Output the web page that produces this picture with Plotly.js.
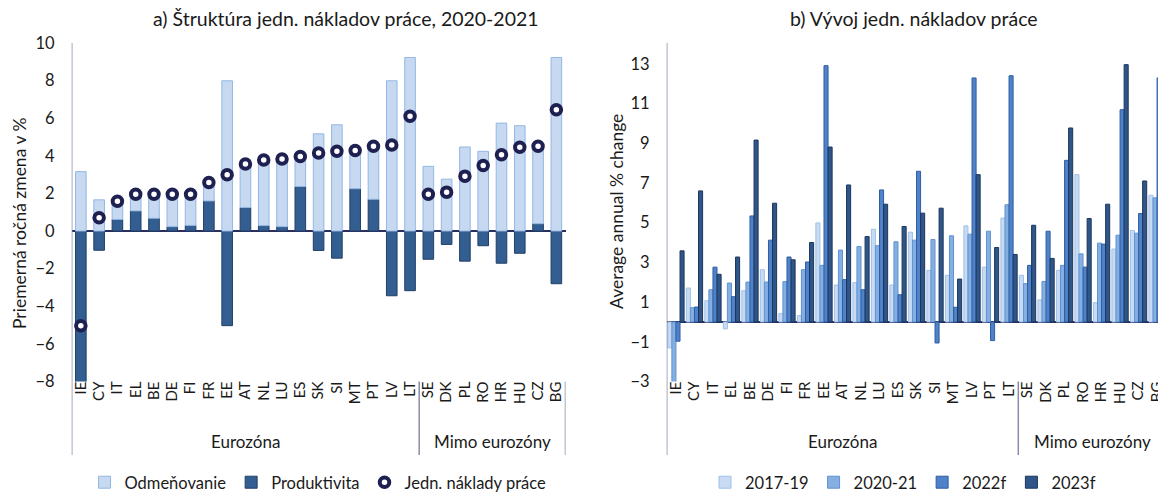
<!DOCTYPE html>
<html>
<head>
<meta charset="utf-8">
<script src="https://cdn.plot.ly/plotly-3.0.1.min.js"></script>
<style>html,body{margin:0;padding:0;background:#fff}#chart{width:1158px;height:497px}</style>
</head>
<body>
<div id="chart"></div>
<script>
// ---- Panel a) data ----
const catsA = ["IE","CY","IT","EL","BE","DE","FI","FR","EE","AT","NL","LU","ES","SK","SI","MT","PT","LV","LT","SE","DK","PL","RO","HR","HU","CZ","BG"];
const odmenovanie = [3.16,1.66,0.97,0.89,1.28,1.73,1.66,0.98,7.99,2.32,3.49,3.60,1.59,5.17,5.65,2.03,2.82,7.99,9.23,3.44,2.76,4.47,4.24,5.74,5.60,4.12,9.23];
const produktivita = [-8.19,-1.02,0.62,1.07,0.68,0.23,0.30,1.60,-5.03,1.25,0.29,0.23,2.37,-1.03,-1.44,2.25,1.69,-3.44,-3.17,-1.50,-0.71,-1.60,-0.78,-1.71,-1.18,0.39,-2.80];
const jednNaklady = [-5.03,0.71,1.59,1.96,1.96,1.96,1.96,2.58,2.99,3.57,3.78,3.83,3.96,4.15,4.24,4.28,4.51,4.58,6.10,1.96,2.07,2.92,3.49,4.06,4.46,4.51,6.45];

// ---- Panel b) data ----
const catsB = ["IE","CY","IT","EL","BE","DE","FI","FR","EE","AT","NL","LU","ES","SK","SI","MT","LV","PT","LT","SE","DK","PL","RO","HR","HU","CZ","BG"];
const s2017_19 = [-1.31,1.71,1.07,-0.35,1.57,2.63,0.42,0.32,4.99,1.86,1.98,4.67,1.86,4.52,2.60,2.35,4.84,2.76,5.23,2.35,1.11,2.60,7.42,0.97,3.67,4.61,6.38];
const s2020_21 = [-5.03,0.72,1.62,1.96,2.01,2.01,2.03,2.63,2.85,3.62,3.80,3.84,4.04,4.12,4.15,4.34,4.42,4.57,5.90,1.93,2.04,2.85,3.43,3.97,4.37,4.47,6.25];
const s2022f = [-0.97,0.75,2.76,1.27,5.34,4.12,3.27,3.02,12.91,2.13,1.62,6.65,1.37,7.59,-1.06,0.74,12.29,-0.94,12.40,2.85,4.57,8.14,2.76,3.92,10.69,5.46,12.29];
const s2023f = [3.58,6.60,2.40,3.27,9.16,5.98,3.13,4.00,8.81,6.90,4.30,5.93,4.81,5.48,5.73,2.16,7.42,3.75,3.40,4.87,3.20,9.77,5.21,5.93,12.96,7.10,null];

const seriesNamesB = ["2017-19","2020-21","2022f","2023f"];
const groupLabels = ["Eurozóna","Mimo eurozóny"];
const euroCount = 19;

const FONT = "Lato, 'Open Sans', sans-serif";
const TXT = "#1a1a1a";
const W = 1158, H = 497;
const px = v => v / W;
const py = v => (H - v) / H;

const yTop = py(43), yBot = py(381.5), yLineBot = py(455);

const lightBase = produktivita.map(p => p > 0 ? p : 0);

const traces = [
  {type:"bar", name:"Produktivita", x:catsA, y:produktivita, xaxis:"x", yaxis:"y",
   width:0.58, offset:-0.29, legendrank:2,
   marker:{color:"#335e91", line:{color:"#223f66", width:1}}},
  {type:"bar", name:"Odmeňovanie", x:catsA, y:odmenovanie, base:lightBase, xaxis:"x", yaxis:"y",
   width:0.58, offset:-0.29, legendrank:1,
   marker:{color:"#c6d9f0", line:{color:"#92b7e4", width:1}}},
  {type:"scatter", mode:"markers", name:"Jedn. náklady práce", x:catsA, y:jednNaklady, xaxis:"x", yaxis:"y",
   legendrank:3, cliponaxis:false,
   marker:{symbol:"circle", size:9.5, color:"#ffffff", line:{color:"#1e2052", width:4}}}
];

const colsB = [
  {fill:"#c9dbf2", line:"#9fc0e8"},
  {fill:"#86afe1", line:"#5f92d2"},
  {fill:"#4f82c8", line:"#2f5ea3"},
  {fill:"#2f5688", line:"#1d355c"}
];
[s2017_19, s2020_21, s2022f, s2023f].forEach((arr, i) => {
  traces.push({type:"bar", name:seriesNamesB[i], x:catsB, y:arr, xaxis:"x2", yaxis:"y2",
    width:0.22, offset:-0.44 + 0.22*i, legend:"legend2",
    marker:{color:colsB[i].fill, line:{color:colsB[i].line, width:1}}});
});

const axisLineColor = "#8a8ca8";
const zeroColor = "#2c2f5e";

const shapes = [
  {type:"line", xref:"x", yref:"paper", x0:-0.5, x1:-0.5, y0:yLineBot, y1:yTop, line:{color:axisLineColor, width:1.5}},
  {type:"line", xref:"x", yref:"paper", x0:euroCount-0.5, x1:euroCount-0.5, y0:yLineBot, y1:yBot, line:{color:axisLineColor, width:1.5}},
  {type:"line", xref:"x", yref:"paper", x0:catsA.length-0.5, x1:catsA.length-0.5, y0:yLineBot, y1:yBot, line:{color:axisLineColor, width:1.5}},
  {type:"line", xref:"x2", yref:"paper", x0:-0.5, x1:-0.5, y0:yLineBot, y1:yTop, line:{color:axisLineColor, width:1.5}},
  {type:"line", xref:"x2", yref:"paper", x0:euroCount-0.5, x1:euroCount-0.5, y0:yLineBot, y1:yBot, line:{color:axisLineColor, width:1.5}}
];

const annotations = [
  {text:"a) Štruktúra jedn. nákladov práce, 2020-2021", xref:"paper", yref:"paper", x:px(345.5), y:py(18), showarrow:false, xanchor:"center", yanchor:"middle", font:{family:FONT, size:19.5, color:TXT}},
  {text:"b) Vývoj jedn. nákladov práce", xref:"paper", yref:"paper", x:px(914), y:py(18), showarrow:false, xanchor:"center", yanchor:"middle", font:{family:FONT, size:19.5, color:TXT}},
  {text:"Priemerná ročná zmena v %", xref:"paper", yref:"paper", x:px(19), y:py(223), textangle:-90, showarrow:false, xanchor:"center", yanchor:"middle", font:{family:FONT, size:17.5, color:TXT}},
  {text:"Average annual % change", xref:"paper", yref:"paper", x:px(616), y:py(212), textangle:-90, showarrow:false, xanchor:"center", yanchor:"middle", font:{family:FONT, size:17.5, color:TXT}},
  {text:groupLabels[0], xref:"x", yref:"paper", x:(euroCount-1)/2, y:py(441), showarrow:false, xanchor:"center", yanchor:"middle", font:{family:FONT, size:17, color:TXT}},
  {text:groupLabels[1], xref:"x", yref:"paper", x:(euroCount + catsA.length-1)/2, y:py(441), showarrow:false, xanchor:"center", yanchor:"middle", font:{family:FONT, size:17, color:TXT}},
  {text:groupLabels[0], xref:"x2", yref:"paper", x:(euroCount-1)/2, y:py(441), showarrow:false, xanchor:"center", yanchor:"middle", font:{family:FONT, size:17, color:TXT}},
  {text:groupLabels[1], xref:"x2", yref:"paper", x:(euroCount + catsB.length-1)/2, y:py(441), showarrow:false, xanchor:"center", yanchor:"middle", font:{family:FONT, size:17, color:TXT}}
];

const xCommon = {type:"category", showgrid:false, showline:false, zeroline:false, ticks:"", tickangle:-90,
  tickmode:"linear", tick0:0, dtick:1,
  tickfont:{family:FONT, size:15, color:TXT}, fixedrange:true, ticklabelstandoff:-4};
const yCommon = {showgrid:false, showline:false, ticks:"", zeroline:true, zerolinecolor:zeroColor, zerolinewidth:1.5,
  tickfont:{family:FONT, size:16.5, color:TXT}, fixedrange:true, ticklabelstandoff:16};

const layout = {
  width:W, height:H, margin:{l:0,r:0,t:0,b:0, autoexpand:false},
  paper_bgcolor:"#ffffff", plot_bgcolor:"#ffffff",
  barmode:"overlay",
  xaxis:Object.assign({}, xCommon, {domain:[px(71.7), px(565.5)], range:[-0.5, catsA.length-0.5], anchor:"y"}),
  yaxis:Object.assign({}, yCommon, {domain:[yBot, yTop], range:[-8,10], dtick:2, tick0:0, anchor:"x"}),
  xaxis2:Object.assign({}, xCommon, {domain:[px(666.7), 1], range:[-0.5, catsB.length-0.95], anchor:"y2"}),
  yaxis2:Object.assign({}, yCommon, {domain:[yBot, py(44)], range:[-3,14], dtick:2, tick0:-3, anchor:"x2"}),
  showlegend:true,
  legend:{orientation:"h", x:px(318), xanchor:"center", y:-0.006, yanchor:"bottom", font:{family:FONT, size:16.5, color:TXT}, itemwidth:30, bgcolor:"rgba(0,0,0,0)"},
  legend2:{orientation:"h", x:px(903), xanchor:"center", y:-0.006, yanchor:"bottom", font:{family:FONT, size:16.5, color:TXT}, itemwidth:30, bgcolor:"rgba(0,0,0,0)"},
  shapes:shapes, annotations:annotations
};

Plotly.newPlot("chart", traces, layout, {staticPlot:true, displayModeBar:false});
</script>
</body>
</html>
